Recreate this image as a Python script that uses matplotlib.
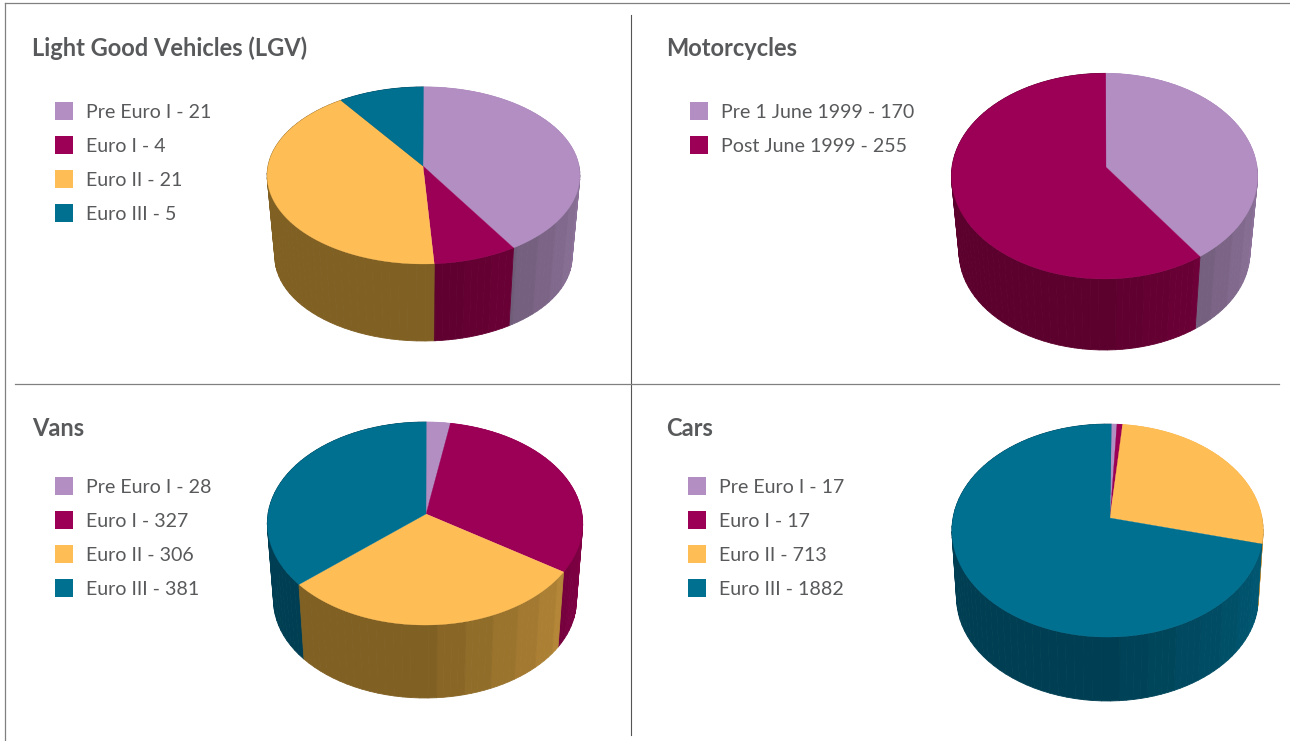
import numpy as np
import matplotlib
matplotlib.use('Agg')
import matplotlib.pyplot as plt
from matplotlib.colors import to_rgb

# data
euro_labels = ['Pre Euro I', 'Euro I', 'Euro II', 'Euro III']
lgv_values = [21, 4, 21, 5]
moto_labels = ['Pre 1 June 1999', 'Post June 1999']
moto_values = [170, 255]
van_values = [28, 327, 306, 381]
car_values = [17, 17, 713, 1882]

# colours
moto_colors = ['#B28EC2', '#9C0056']
top_colors = ['#B28EC2', '#9C0056', '#FFBD55', '#007091']
dark_colors = {'#B28EC2': '#5E4F66', '#9C0056': '#5C002D', '#FFBD55': '#806023', '#007091': '#003F53'}
text_color = '#58595B'
font = 'Lato'

fig = plt.figure(figsize=(12.9, 7.41), dpi=100)
ax = fig.add_axes([0, 0, 1, 1])
ax.set_xlim(0, 1290)
ax.set_ylim(741, 0)
ax.axis('off')


def project(theta, p, scale=1.0, drop=0.0):
    # theta clockwise from the top of the pie, in degrees
    u = np.sin(np.radians(theta))
    v = -np.cos(np.radians(theta))
    d = 1 - p['k'] * v
    x = p['x'] + p['dx'] + scale * p['rx'] * u / d
    y = p['y'] + scale * p['ry'] * v / d + drop
    return x, y


def shade(color, theta):
    # wall facets get lighter going from the front towards the right edge
    n = 0
    if theta < 176:
        n = int((176 - theta) // 9.7) + 1
    t = min(0.068 * n, 1)
    a = np.array(to_rgb(dark_colors[color]))
    b = np.array(to_rgb(color))
    return tuple(a + (b - a) * t)


def pie3d(values, colors, p):
    values = np.array(values, dtype=float)
    edges = np.concatenate([[0], np.cumsum(values) / values.sum() * 360]) + p['start']
    front = (p['bottom'] - p['y'] - p['s'] * p['ry'] / (1 - p['k']))

    # wall first, cut in thin strips, from the back to the front
    grid = 176 - 9.7 * np.arange(0, 10)
    strips = []
    for i, c in enumerate(colors):
        a, b = edges[i], edges[i + 1]
        cuts = [g for g in grid if a < g < b]
        bounds = [a] + sorted(cuts) + [b]
        for t0, t1 in zip(bounds[:-1], bounds[1:]):
            col = shade(c, (t0 + t1) / 2)
            th = np.linspace(t0, t1, int((t1 - t0) / 3) + 2)
            for s0, s1 in zip(th[:-1], th[1:]):
                strips.append((s0, s1, col))
    strips.sort(key=lambda q: -abs(180 - (q[0] + q[1]) / 2))
    for t0, t1, col in strips:
        th = np.array([t0, t1])
        x1, y1 = project(th, p)
        x2, y2 = project(th[::-1], p, p['s'], front)
        ax.fill(np.r_[x1, x2], np.r_[y1, y2], color=col, lw=0.6, zorder=2)

    # top face
    for i, c in enumerate(colors):
        th = np.linspace(edges[i], edges[i + 1], max(int(edges[i + 1] - edges[i]) * 2, 3))
        x, y = project(th, p)
        ax.fill(np.r_[p['x'], x], np.r_[p['y'], y], color=c, lw=0.2, zorder=3)


def legend(labels, values, colors, x_box, x_text, y_start):
    for i, (l, v, c) in enumerate(zip(labels, values, colors)):
        y = y_start + 34 * i
        ax.fill([x_box, x_box + 18, x_box + 18, x_box], [y - 9, y - 9, y + 9, y + 9], color=c, lw=0)
        ax.text(x_text, y, f'{l} - {v}', color=text_color, fontsize=14.1, family=font,
                va='center_baseline', ha='left')


def title(s, x, y):
    ax.text(x, y, s, color=text_color, fontsize=17, family=font, weight='bold',
            va='center_baseline', ha='left')


# frame lines
ax.plot([5, 1290], [3, 3], color='#808080', lw=0.9)
ax.plot([5, 5], [3, 741], color='#808080', lw=0.9)
ax.plot([631, 631], [15, 735], color='#555555', lw=0.8)
ax.plot([15, 1279], [384, 384], color='#808080', lw=0.9)

title('Light Good Vehicles (LGV)', 32, 46)
legend(euro_labels, lgv_values, top_colors, 55, 86, 111)
pie3d(lgv_values, top_colors, dict(x=423, dx=0.5, y=166, rx=155.5, ry=87.5, k=0.107, s=0.95, bottom=341, start=0))

title('Motorcycles', 666.5, 46)
legend(moto_labels, moto_values, moto_colors, 690, 721, 111)
pie3d(moto_values, moto_colors, dict(x=1106, dx=-1.5, y=167, rx=152.5, ry=102, k=0.089, s=0.95, bottom=350, start=0.5))

title('Vans', 32, 427)
legend(euro_labels, van_values, top_colors, 55, 86, 486)
pie3d(van_values, top_colors, dict(x=426, dx=-1, y=514, rx=157, ry=100.6, k=0.094, s=0.96, bottom=698, start=0.5))

title('Cars', 666.5, 427)
legend(euro_labels, car_values, top_colors, 688, 719, 486)
pie3d(car_values, top_colors, dict(x=1110, dx=-2.5, y=518, rx=154.5, ry=105, k=0.118, s=0.97, bottom=701, start=1.6))

fig.savefig('out.png', dpi=100)
